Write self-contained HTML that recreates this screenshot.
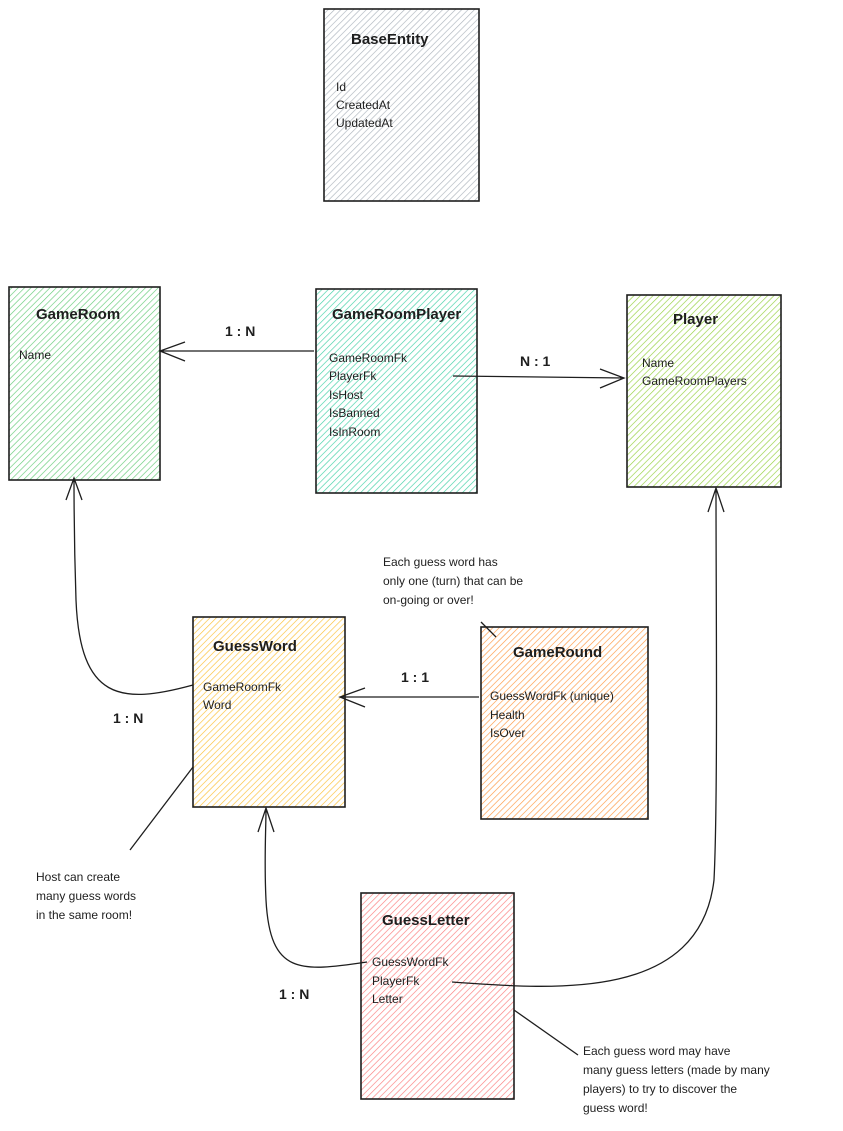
<!DOCTYPE html>
<html><head><meta charset="utf-8"><style>
html,body{margin:0;padding:0;background:#fff;}
svg{display:block;}
text{font-family:"Liberation Sans",sans-serif;fill:#1e1e1e;}
.t{font-size:15px;font-weight:bold;}
.f{font-size:12px;}
.l{font-size:14px;font-weight:bold;}
.n{font-size:12px;}
</style></head><body>
<svg width="843" height="1131" viewBox="0 0 843 1131" xmlns="http://www.w3.org/2000/svg">
<defs>
<pattern id="pg" width="4.5" height="4.5" patternUnits="userSpaceOnUse" patternTransform="rotate(45)"><line x1="0" y1="0" x2="0" y2="5" stroke="#adb5bd" stroke-width="1.3"/></pattern>
<pattern id="pgr" width="4.5" height="4.5" patternUnits="userSpaceOnUse" patternTransform="rotate(45)"><line x1="0" y1="0" x2="0" y2="5" stroke="#40c057" stroke-width="1.3" opacity=".8"/></pattern>
<pattern id="pt" width="4.5" height="4.5" patternUnits="userSpaceOnUse" patternTransform="rotate(45)"><line x1="0" y1="0" x2="0" y2="5" stroke="#20c997" stroke-width="1.3" opacity=".85"/></pattern>
<pattern id="pl" width="4.5" height="4.5" patternUnits="userSpaceOnUse" patternTransform="rotate(45)"><line x1="0" y1="0" x2="0" y2="5" stroke="#82c91e" stroke-width="1.3" opacity=".85"/></pattern>
<pattern id="py" width="4.5" height="4.5" patternUnits="userSpaceOnUse" patternTransform="rotate(45)"><line x1="0" y1="0" x2="0" y2="5" stroke="#fab005" stroke-width="1.3" opacity=".8"/></pattern>
<pattern id="po" width="4.5" height="4.5" patternUnits="userSpaceOnUse" patternTransform="rotate(45)"><line x1="0" y1="0" x2="0" y2="5" stroke="#fd7e14" stroke-width="1.3" opacity=".8"/></pattern>
<pattern id="pr" width="4.5" height="4.5" patternUnits="userSpaceOnUse" patternTransform="rotate(45)"><line x1="0" y1="0" x2="0" y2="5" stroke="#fa5252" stroke-width="1.3" opacity=".75"/></pattern>
</defs>
<g stroke="#1e1e1e" stroke-width="1.6">
<rect x="324" y="9" width="155" height="192" fill="url(#pg)"/>
<rect x="9" y="287" width="151" height="193" fill="url(#pgr)"/>
<rect x="316" y="289" width="161" height="204" fill="url(#pt)"/>
<rect x="627" y="295" width="154" height="192" fill="url(#pl)"/>
<rect x="193" y="617" width="152" height="190" fill="url(#py)"/>
<rect x="481" y="627" width="167" height="192" fill="url(#po)"/>
<rect x="361" y="893" width="153" height="206" fill="url(#pr)"/>
</g>
<g stroke="#1e1e1e" stroke-width="1.3" fill="none">
<path d="M314 351 L160 351 M185 342 L160 351 L185 361"/>
<path d="M453 376 L624 378 M600 369 L624 378 L600 388"/>
<path d="M479 697 L340 697 M365 688 L340 697 L365 707"/>
<path d="M193 685 C120 705 80 700 76 600 C74 540 74 500 74 478 M66 500 L74 478 L82 500"/>
<path d="M367 962 C300 972 270 975 266 900 C264 860 266 830 266 808 M258 832 L266 808 L274 832"/>
<path d="M452 982 C560 990 700 1000 714 880 C718 800 716 600 716 488 M708 512 L716 488 L724 512"/>
<path d="M496 637 L481 622"/>
<path d="M193 767 L130 850"/>
<path d="M514 1010 L578 1055"/>
</g>
<text class="t" x="351" y="44">BaseEntity</text>
<text class="f" x="336" y="91">Id</text>
<text class="f" x="336" y="109">CreatedAt</text>
<text class="f" x="336" y="127">UpdatedAt</text>
<text class="t" x="36" y="319">GameRoom</text>
<text class="f" x="19" y="359">Name</text>
<text class="t" x="332" y="319">GameRoomPlayer</text>
<text class="f" x="329" y="362">GameRoomFk</text>
<text class="f" x="329" y="380">PlayerFk</text>
<text class="f" x="329" y="399">IsHost</text>
<text class="f" x="329" y="417">IsBanned</text>
<text class="f" x="329" y="436">IsInRoom</text>
<text class="t" x="673" y="324">Player</text>
<text class="f" x="642" y="367">Name</text>
<text class="f" x="642" y="385">GameRoomPlayers</text>
<text class="t" x="213" y="651">GuessWord</text>
<text class="f" x="203" y="691">GameRoomFk</text>
<text class="f" x="203" y="709">Word</text>
<text class="t" x="513" y="657">GameRound</text>
<text class="f" x="490" y="700">GuessWordFk (unique)</text>
<text class="f" x="490" y="719">Health</text>
<text class="f" x="490" y="737">IsOver</text>
<text class="t" x="382" y="925">GuessLetter</text>
<text class="f" x="372" y="966">GuessWordFk</text>
<text class="f" x="372" y="985">PlayerFk</text>
<text class="f" x="372" y="1003">Letter</text>
<text class="l" x="225" y="336">1 : N</text>
<text class="l" x="520" y="366">N : 1</text>
<text class="l" x="401" y="682">1 : 1</text>
<text class="l" x="113" y="723">1 : N</text>
<text class="l" x="279" y="999">1 : N</text>
<text class="n" x="383" y="566">Each guess word has</text>
<text class="n" x="383" y="585">only one (turn) that can be</text>
<text class="n" x="383" y="604">on-going or over!</text>
<text class="n" x="36" y="881">Host can create</text>
<text class="n" x="36" y="900">many guess words</text>
<text class="n" x="36" y="919">in the same room!</text>
<text class="n" x="583" y="1055">Each guess word may have</text>
<text class="n" x="583" y="1074">many guess letters (made by many</text>
<text class="n" x="583" y="1093">players) to try to discover the</text>
<text class="n" x="583" y="1112">guess word!</text>
</svg>
</body></html>
